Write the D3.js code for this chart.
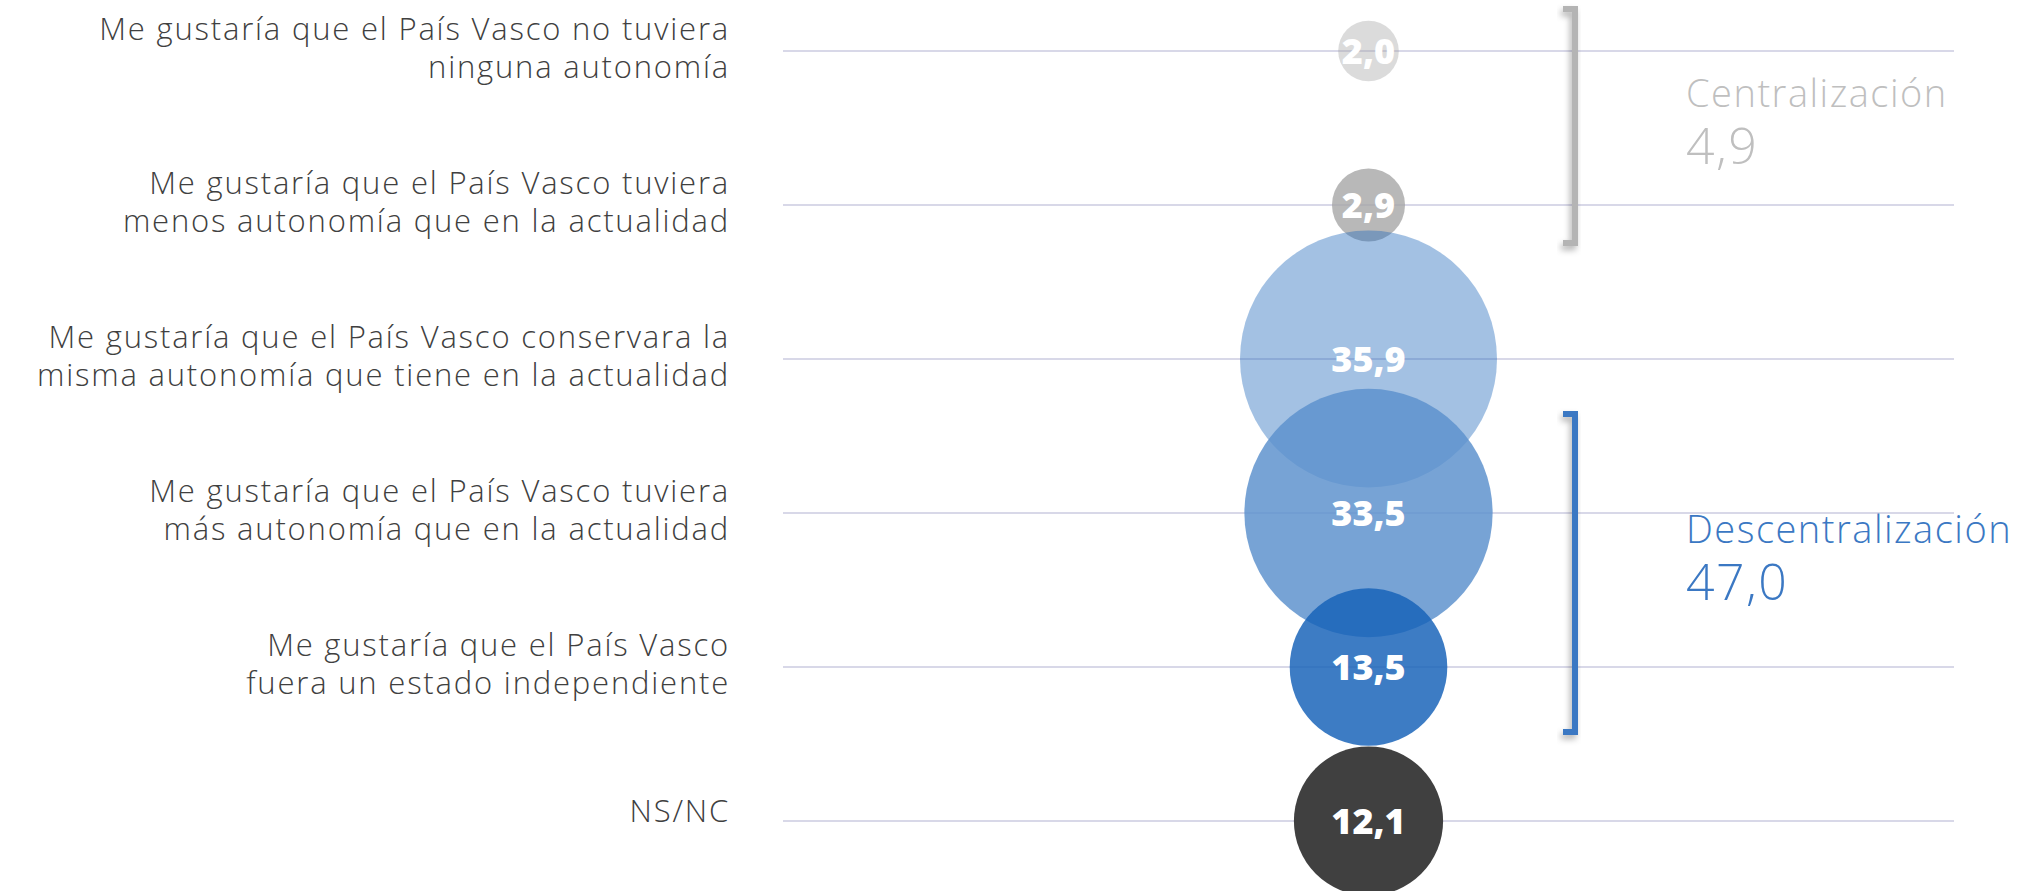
<!DOCTYPE html>
<html>
<head>
<meta charset="utf-8">
<script src="https://cdn.jsdelivr.net/npm/d3@7"></script>
<style>
  body { margin: 0; background: #fff; }
  svg { display: block; }
  .cat { font-family: "Open Sans", sans-serif; font-weight: 300; font-size: 31px; letter-spacing: 1.8px; fill: #404040; }
  .val { font-family: "Open Sans", sans-serif; font-weight: 800; font-size: 36px; fill: #fff; }
  .grp { font-family: "Open Sans", sans-serif; font-weight: 300; letter-spacing: 1.5px; }
</style>
</head>
<body>
<svg id="chart" width="2026" height="891"></svg>
<script>
const categories = [
  "Me gustaría que el País Vasco no tuviera\nninguna autonomía",
  "Me gustaría que el País Vasco tuviera\nmenos autonomía que en la actualidad",
  "Me gustaría que el País Vasco conservara la\nmisma autonomía que tiene en la actualidad",
  "Me gustaría que el País Vasco tuviera\nmás autonomía que en la actualidad",
  "Me gustaría que el País Vasco\nfuera un estado independiente",
  "NS/NC"
];
const values = [2.0, 2.9, 35.9, 33.5, 13.5, 12.1];
const fills = ["#a6a6a6", "#a6a6a6", "#246bbc", "#5d91cd", "#1662b8", "#404040"];
const alphas = [0.4, 0.8, 0.42, 0.84, 0.83, 1];

const groupNames = ["Centralización", "Descentralización"];
const groupValues = [4.9, 47.0];
const groupFirst = [0, 3];
const groupLast = [1, 4];
const groupColors = ["#b4b4b4", "#3b78c3"];
const groupTextColors = ["#bfbfbf", "#3b78c3"];

const svg = d3.select("#chart");
const fmt = v => d3.format(".1f")(v).replace(".", ",");

const x0 = 783, x1 = 1954;
const cx = (x0 + x1) / 2;

const yScale = d3.scalePoint()
  .domain(categories)
  .range([51, 821]);

const rScale = d3.scaleSqrt()
  .domain([0, 35.9])
  .range([0, 128.5]);

// drop shadow for brackets
const defs = svg.append("defs");
const f = defs.append("filter").attr("id", "shadow")
  .attr("x", "-50%").attr("y", "-20%").attr("width", "200%").attr("height", "140%");
f.append("feDropShadow")
  .attr("dx", -2).attr("dy", 4).attr("stdDeviation", 3)
  .attr("flood-color", "#000").attr("flood-opacity", 0.3);

// grid lines
svg.append("g")
  .selectAll("line")
  .data(categories)
  .join("line")
  .attr("x1", x0)
  .attr("x2", x1)
  .attr("y1", d => yScale(d))
  .attr("y2", d => yScale(d))
  .attr("stroke", "#d8d8e8")
  .attr("stroke-width", 2);

// category labels
const lab = svg.append("g")
  .selectAll("text")
  .data(categories)
  .join("text")
  .attr("class", "cat")
  .attr("text-anchor", "end")
  .attr("x", 730);

lab.each(function (d) {
  const lines = d.split("\n");
  const y = yScale(d);
  d3.select(this).selectAll("tspan")
    .data(lines)
    .join("tspan")
    .attr("x", 730)
    .attr("y", (l, i) => y + (i - (lines.length - 1) / 2) * 38 + (lines.length > 1 ? 8 : 1))
    .text(l => l);
});

// bubbles
const items = categories.map((c, i) => ({ cat: c, value: values[i], fill: fills[i], alpha: alphas[i] }));

svg.append("g")
  .selectAll("circle")
  .data(items)
  .join("circle")
  .attr("cx", cx)
  .attr("cy", d => yScale(d.cat))
  .attr("r", d => rScale(d.value))
  .attr("fill", d => d.fill)
  .attr("fill-opacity", d => d.alpha);

svg.append("g")
  .selectAll("text")
  .data(items)
  .join("text")
  .attr("class", "val")
  .attr("text-anchor", "middle")
  .attr("x", cx)
  .attr("y", d => yScale(d.cat) + 13)
  .text(d => fmt(d.value));

// brackets and group totals
const bx = 1575;
groupNames.forEach((name, g) => {
  const top = g === 0 ? yScale(categories[groupFirst[g]]) - 42 : yScale(categories[groupFirst[g]]) - 99;
  const bot = g === 0 ? yScale(categories[groupLast[g]]) + 38 : yScale(categories[groupLast[g]]) + 65;
  svg.append("path")
    .attr("d", `M${bx - 12},${top} H${bx} V${bot} H${bx - 12}`)
    .attr("fill", "none")
    .attr("stroke", groupColors[g])
    .attr("stroke-width", 6)
    .attr("filter", "url(#shadow)");

  const base = g === 0 ? 107 : 543;
  svg.append("text")
    .attr("class", "grp")
    .attr("x", 1686)
    .attr("y", base)
    .attr("font-size", 38)
    .attr("fill", groupTextColors[g])
    .text(name);
  svg.append("text")
    .attr("class", "grp")
    .attr("x", 1686)
    .attr("y", base + 57)
    .attr("font-size", 50)
    .attr("fill", groupTextColors[g])
    .text(fmt(groupValues[g]));
});
</script>
</body>
</html>
